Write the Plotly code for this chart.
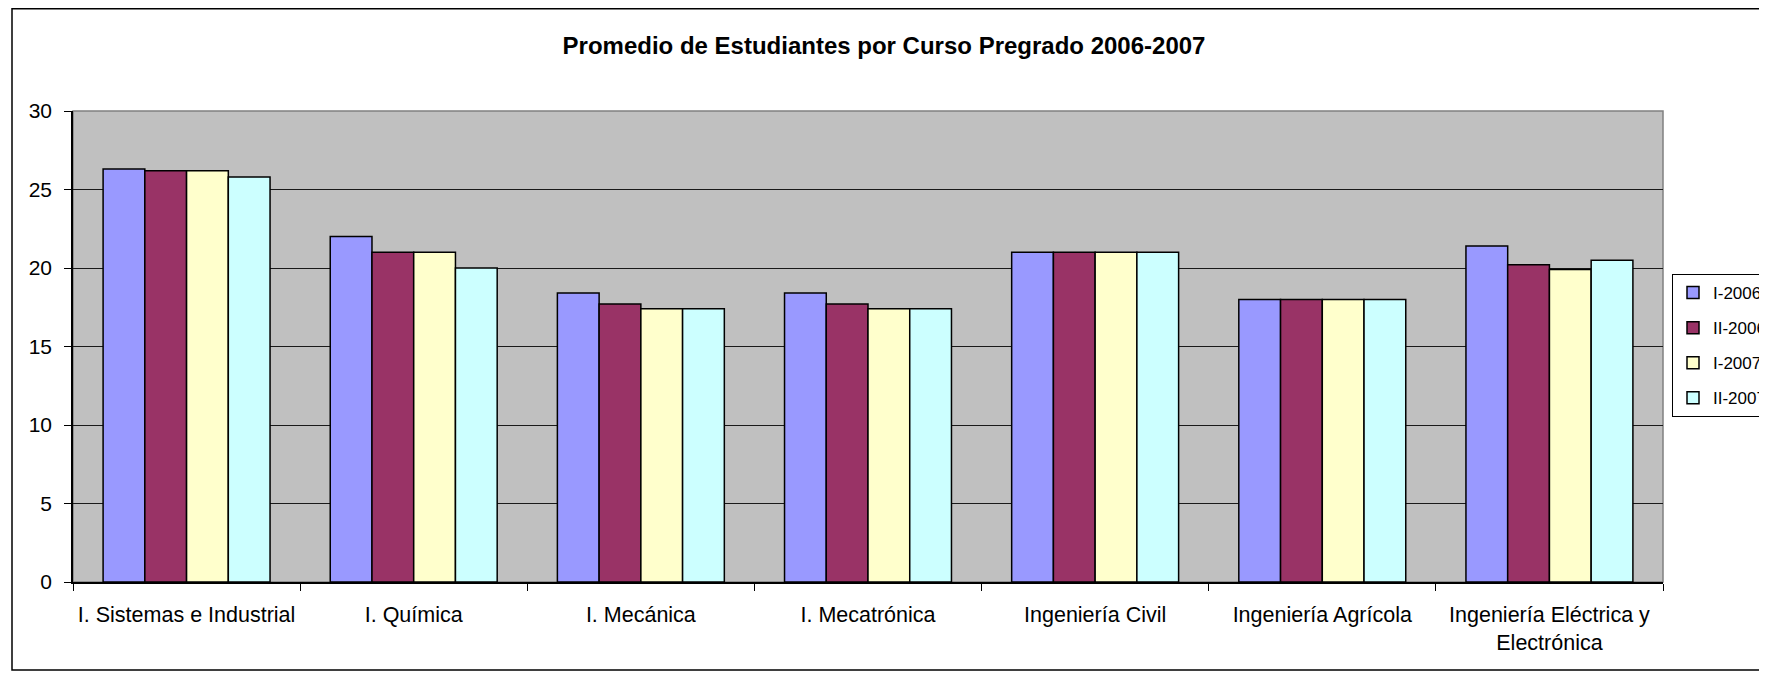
import plotly.graph_objects as go

categories = [
    "I. Sistemas e Industrial",
    "I. Química",
    "I. Mecánica",
    "I. Mecatrónica",
    "Ingeniería Civil",
    "Ingeniería Agrícola",
    "Ingeniería Eléctrica y<br>Electrónica",
]
series_names = ["I-2006", "II-2006", "I-2007", "II-2007"]
i_2006 = [26.3, 22.0, 18.4, 18.4, 21.0, 18.0, 21.4]
ii_2006 = [26.2, 21.0, 17.7, 17.7, 21.0, 18.0, 20.2]
i_2007 = [26.2, 21.0, 17.4, 17.4, 21.0, 18.0, 19.9]
ii_2007 = [25.8, 20.0, 17.4, 17.4, 21.0, 18.0, 20.5]
colors = ["#9999FF", "#993366", "#FFFFCC", "#CCFFFF"]
y_ticks = [0, 5, 10, 15, 20, 25, 30]

FONT = "Liberation Sans, Arial, sans-serif"

# figure coordinates (the page body adds an 8px offset)
W, H = 1767, 673
PL, PR, PT, PB = 65, 1655, 103, 574
PW, PH = PR - PL, PB - PT

fig = go.Figure()
for k, (name, vals) in enumerate(zip(series_names, [i_2006, ii_2006, i_2007, ii_2007])):
    fig.add_trace(go.Bar(
        x=categories, y=vals, name=name,
        marker=dict(color=colors[k], line=dict(color="#000000", width=1.5)),
        legendgroup=name,
    ))

# outer chart border (extends past the right edge, as in the reference crop)
fig.add_shape(type="rect", xref="paper", yref="paper",
              x0=(4 - PL) / PW, x1=(1800 - PL) / PW,
              y0=(PB - 662) / PH, y1=(PB - 0.75) / PH,
              line=dict(color="#000000", width=1.5), layer="below")
# plot area gray border
fig.add_shape(type="rect", xref="paper", yref="paper", x0=0, x1=1, y0=0, y1=1,
              line=dict(color="#808080", width=1.5), layer="below")

fig.update_layout(
    width=W, height=H,
    margin=dict(l=PL, r=W - PR, t=PT, b=H - PB, autoexpand=False),
    paper_bgcolor="white",
    plot_bgcolor="#C0C0C0",
    font=dict(family=FONT, size=21, color="#000000"),
    title=dict(text="<b>Promedio de Estudiantes por Curso Pregrado 2006-2007</b>",
               x=876 / W, xref="container", xanchor="center",
               y=1 - 38 / H, yanchor="middle",
               font=dict(family=FONT, size=24, color="#000000")),
    barmode="group", bargap=0.265, bargroupgap=0,
    showlegend=True,
    legend=dict(xref="container", yref="container",
                x=1664 / W, xanchor="left", y=1 - 266 / H, yanchor="top",
                bgcolor="white", bordercolor="#000000", borderwidth=1,
                font=dict(family=FONT, size=17, color="#000000"),
                tracegroupgap=10, traceorder="grouped"),
    xaxis=dict(showgrid=False, showline=True, linecolor="#000000", linewidth=1.5,
               ticks="outside", tickson="boundaries", ticklen=7, tickcolor="#000000",
               tickfont=dict(family=FONT, size=21.5, color="#000000"),
               ticklabelstandoff=12),
    yaxis=dict(range=[0, 30], tickvals=y_ticks, showgrid=True, gridcolor="#1a1a1a",
               gridwidth=1, showline=True, linecolor="#000000", linewidth=1.5,
               ticks="outside", ticklen=7, tickcolor="#000000",
               tickfont=dict(family=FONT, size=21, color="#000000"),
               ticklabelstandoff=8, zeroline=False),
)

fig.write_html("out.html")
